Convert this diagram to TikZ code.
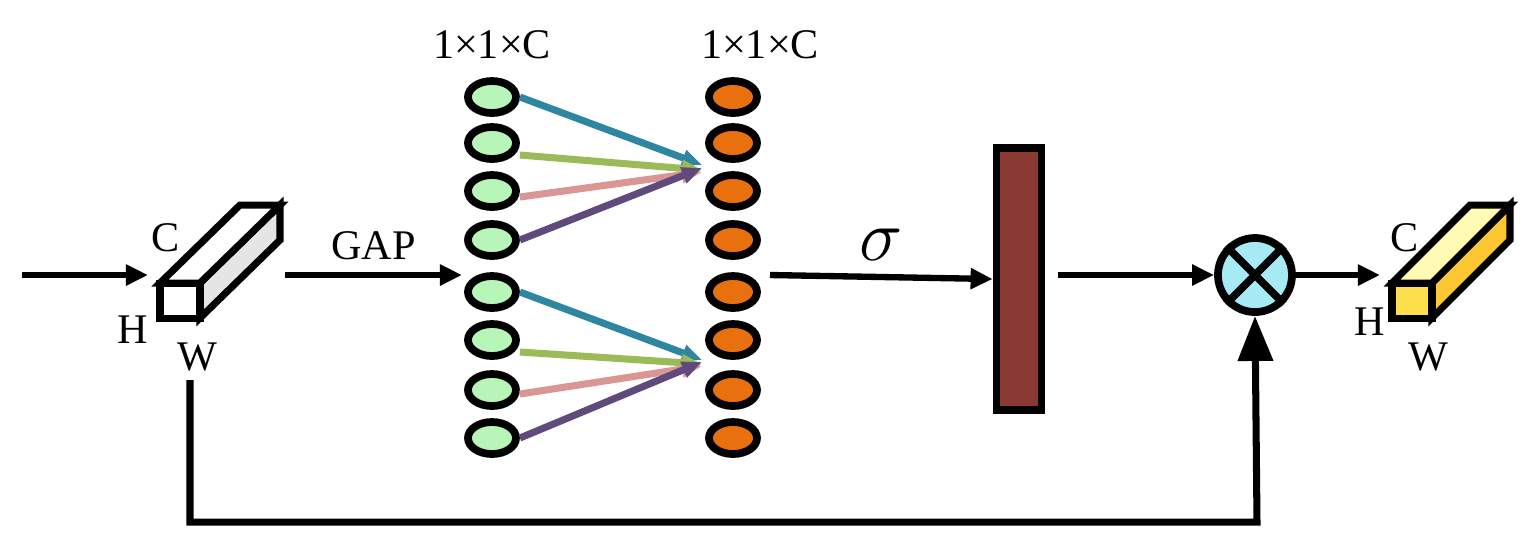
\documentclass[tikz,border=0pt]{standalone}
\usepackage{fontspec}
\setmainfont{Liberation Serif}
\usetikzlibrary{arrows.meta,shapes.geometric}
\definecolor{greenfill}{HTML}{B8F5B8}
\definecolor{orangefill}{HTML}{E8700E}
\definecolor{barfill}{HTML}{8B3A33}
\definecolor{crossfill}{HTML}{A6EAF6}
\definecolor{cteal}{HTML}{2E86A0}
\definecolor{colive}{HTML}{9BBB59}
\definecolor{cpink}{HTML}{D99694}
\definecolor{cpurple}{HTML}{5F4A7B}
\tikzset{
    flownode/.style={
        ellipse,
        draw=black,
        line width=2.2pt,
        minimum width=0.48cm,
        minimum height=0.32cm,
        inner sep=0
    },
    mainarrow/.style={
        line width=1.8pt,
        -{Triangle[length=0.22cm,width=0.2cm]}
    },
    linkarrow/.style={
        line width=2pt,
        -{Triangle[length=0.2cm,width=0.16cm]}
    },
    labeltext/.style={
        font=\fontsize{12}{14}\selectfont,
        inner sep=0
    }
}
\begin{document}
\begin{tikzpicture}[x=0.01cm,y=-0.01cm]
    \useasboundingbox (0,0) rectangle (1529,550);
    % input block
    \draw[line width=2pt,fill=gray!20] (200,283) -- (280,205) -- (280,240) -- (200,318) -- cycle;
    \draw[line width=2pt,fill=white] (160,283) -- (240,205) -- (280,205) -- (200,283) -- cycle;
    \draw[line width=2pt,fill=white] (160,283) rectangle (200,318);
    \coordinate (inL) at (160,275);
    \coordinate (inR) at (285,275);
    \coordinate (inB) at (190,380);
    \node[labeltext] (inC) at (166,238) {C};
    \node[labeltext] (inH) at (133,330) {H};
    \node[labeltext] (inW) at (197,357) {W};
    \coordinate (start) at (22,275);
    \draw[mainarrow] (start) -- (148,275);
    % feature columns
    \foreach \i/\y in {1/97,2/143,3/191,4/240,5/292,6/340,7/390,8/438} {
        \node[flownode,fill=greenfill] (g\i) at (492,\y) {};
        \node[flownode,fill=orangefill] (o\i) at (733,\y) {};
    }
    \node[labeltext] (topg) at (492,45) {1×1×C};
    \node[labeltext] (topo) at (760,45) {1×1×C};
    \draw[mainarrow] (inR) -- node[labeltext,above=0.12cm] {GAP} (462,275);
    % links
    \coordinate (t1) at (702,165);
    \coordinate (t2) at (702,360);
    \draw[linkarrow,cteal]   (g1.east) -- (t1);
    \draw[linkarrow,colive]  (g2.east) ++(0,12) -- (702,170);
    \draw[linkarrow,cpink]   (g3.east) ++(0,6) -- (702,172);
    \draw[linkarrow,cpurple] (g4.east) -- (702,168);
    \draw[linkarrow,cteal]   (g5.east) -- (t2);
    \draw[linkarrow,colive]  (g6.east) ++(0,12) -- (702,364);
    \draw[linkarrow,cpink]   (g7.east) ++(0,4) -- (702,366);
    \draw[linkarrow,cpurple] (g8.east) -- (702,362);
    % sigma
    \node[draw=black,line width=2.2pt,fill=barfill,minimum width=0.45cm,minimum height=2.62cm,inner sep=0] (bar) at (1019,279) {};
    \draw[mainarrow] (770,275) -- node[above=0.02cm,font=\fontsize{22}{24}\selectfont] {$\sigma$} (bar.west);
    % multiply
    \node[circle,draw=black,line width=2.2pt,fill=crossfill,minimum size=0.74cm,inner sep=0] (mul) at (1255,275) {};
    \draw[line width=2.2pt] (mul.north west) -- (mul.south east) (mul.north east) -- (mul.south west);
    \draw[mainarrow] (1058,275) -- (mul.west);
    % output block
    \draw[line width=2pt,fill=yellow!50!orange!80] (1432,283) -- (1510,205) -- (1510,240) -- (1432,318) -- cycle;
    \draw[line width=2pt,fill=yellow!30!white] (1392,283) -- (1470,205) -- (1510,205) -- (1432,283) -- cycle;
    \draw[line width=2pt,fill=yellow!70!orange!70] (1392,283) rectangle (1432,318);
    \draw[mainarrow] (mul.east) -- (1380,275);
    \node[labeltext] (outC) at (1405,238) {C};
    \node[labeltext] (outH) at (1370,322) {H};
    \node[labeltext] (outW) at (1428,357) {W};
    % skip connection
    \draw[line width=2pt,-{Triangle[length=0.45cm,width=0.34cm]}] (inB) |- (1257,522) -- (mul.south);
\end{tikzpicture}
\end{document}
